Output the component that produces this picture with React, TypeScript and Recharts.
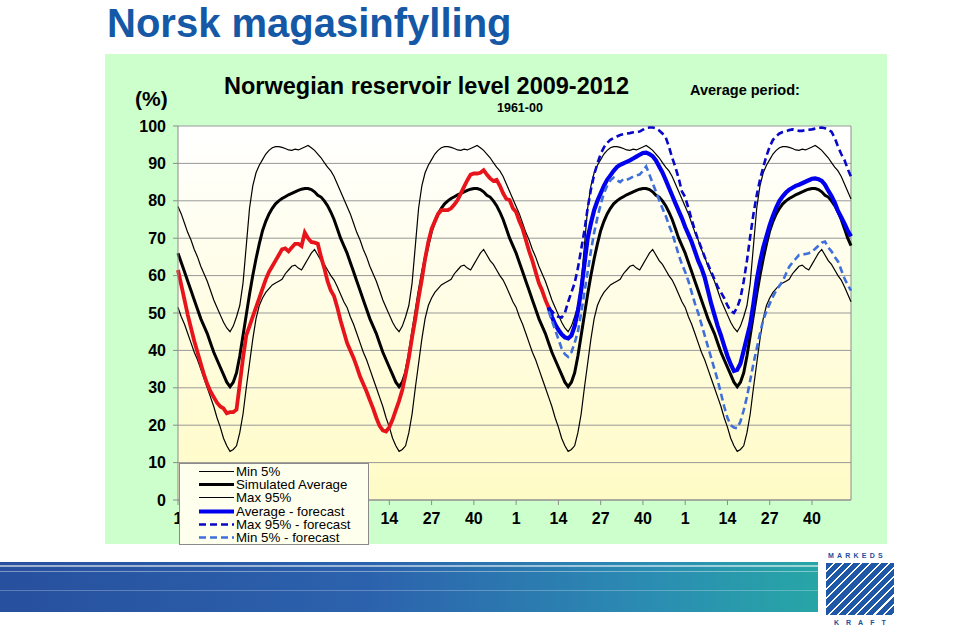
import React from 'react';
import { LineChart, Line, XAxis, YAxis, CartesianGrid, Legend, ReferenceLine } from 'recharts';

const FONT = 'Arial, "Liberation Sans", Helvetica, sans-serif';

// ---------- categories / ticks ----------
const YEARS = [2009, 2010, 2011, 2012];
const WEEKS_PER_YEAR = 52;
const TICK_WEEKS = [1, 14, 27, 40];
const Y_TICKS = [0, 10, 20, 30, 40, 50, 60, 70, 80, 90, 100];
const FORECAST_START_YEAR = 2011;
const FORECAST_START_WEEK = 11;

// ---------- statistics 1961-00 (weekly, week 1..52) ----------
const MIN5_WEEKLY = [
  51.5, 49, 47, 44.5, 42, 39.5, 37.5, 35, 32.5, 30,
  27.5, 25, 22, 19.5, 16.5, 14.5, 13, 13.5, 14.5, 18,
  23, 30, 36.5, 43, 48.5, 52, 54, 55.5, 56.5, 57.5,
  58, 58.5, 59, 60.5, 61.5, 62.5, 62.8, 62, 61.5, 63,
  64.5, 66, 67, 65.5, 64, 63, 61.5, 60, 58.8, 57,
  55, 53,
];
const SIMAVG_WEEKLY = [
  66, 63.5, 61, 58.5, 56, 53.5, 51, 48.5, 46.5, 44.5,
  42, 39.5, 37.5, 35.5, 33.5, 31.5, 30.3, 31.5, 34, 38.5,
  44, 49.5, 55, 60, 64.5, 68.5, 72, 74.5, 76.5, 78,
  79.2, 80, 80.6, 81.1, 81.6, 82, 82.4, 82.8, 83.1, 83.3,
  83.3, 83, 82.4, 81.5, 81, 80, 78.7, 77, 75, 72.5,
  70, 68,
];
const MAX95_WEEKLY = [
  78.5, 76.5, 74, 71.5, 69.5, 67, 65, 62.5, 60.5, 58.5,
  56, 53.5, 51.5, 49.5, 47.5, 46, 45, 46.5, 49, 52,
  58, 68, 78, 84, 87.5, 89.5, 91, 92.5, 93.5, 94.2,
  94.5, 94.5, 94.3, 94, 93.6, 93.5, 93.8, 93.6, 94, 94.4,
  94.8, 94.2, 93.5, 92.5, 91.5, 90.2, 89, 88, 86.5, 84.5,
  82.5, 80.5,
];

// ---------- actual reservoir level ----------
const ACTUAL_2009 = [
  61.5, 57.5, 53.5, 49.5, 46, 42.5, 39.5, 36.5, 33.5, 31,
  29, 27.5, 26, 25, 24.5, 23.2, 23.5, 23.5, 24.2, 31,
  38, 44, 46.5, 49, 51.5, 54, 56.5, 59, 61, 62.5,
  64, 65.5, 67, 67.3, 66.5, 67.5, 68.5, 68.5, 67.9, 71.5,
  70, 69, 68.8, 68.5, 65, 62, 58.5, 56, 54.5, 51.5,
  48, 45,
];
const ACTUAL_2010 = [
  42, 40, 38, 35.6, 33, 31, 29, 26.7, 24.5, 22,
  19.8, 18.6, 18.3, 19.5, 21.5, 24, 26.5, 29.5, 33.5, 38,
  43.5, 48.5, 54, 59, 64.5, 69, 72.5, 74.5, 76.5, 77.5,
  77.5, 77.5, 78, 79, 80.2, 82, 83.8, 85.5, 87, 87.3,
  87.3, 87.5, 88.2, 87, 86, 85.3, 85.6, 84, 82, 80.5,
  80.2, 78,
];
const ACTUAL_2011 = [77, 74.5, 72.5, 69.5, 66.5, 64, 61, 58, 56, 53.5, 51.5, 50];

// ---------- forecasts (2011 from week 11, then 2012) ----------
const FC_AVG_2011 = [
  51.5, 49, 47, 45.5, 44.3, 43.5, 43.2, 44, 46.5, 50.5,
  56, 63, 70, 74, 77.5, 80, 82, 84, 85.6, 86.8,
  88, 89, 89.6, 90, 90.4, 90.8, 91.3, 91.8, 92.3, 92.8,
  92.9, 92.5, 91.9, 90.8, 89.2, 87.6, 85.6, 83.5, 81.4, 79.3,
  77.3, 75.3,
];
const FC_AVG_2012 = [
  73, 71, 69, 66.5, 64, 62, 59.5, 56, 52.5, 49.5,
  46.5, 44, 41.2, 38.5, 36.3, 34.5, 34.8, 36.5, 40, 43.5,
  47, 52.5, 58.8, 63.5, 67.5, 70.5, 73.5, 76, 78.2, 80,
  81.2, 82.2, 83, 83.5, 84, 84.3, 84.7, 85.1, 85.5, 85.9,
  86, 85.8, 85.3, 84.3, 82.7, 81.3, 79.5, 77.3, 75.6, 73.9,
  72, 70.5,
];
const FC_MAX_2011 = [
  51, 50.5, 49.5, 49, 48.8, 50, 53, 55.5, 58, 62,
  67, 72, 78, 83, 87, 90, 92.5, 94.3, 95.5, 96.3,
  96.8, 97.2, 97.6, 97.8, 98, 98.1, 98.3, 98.4, 98.5, 99,
  99.5, 99.6, 99.6, 99.4, 98.8, 98, 97, 94.5, 91.5, 89,
  86, 82.5,
];
const FC_MAX_2012 = [
  81, 78, 75, 72, 69.5, 67.3, 65, 63, 61, 59,
  57, 55.5, 54, 52, 50.5, 50, 51.5, 54, 58.5, 64,
  70.5, 76.5, 81.5, 85.6, 89, 92, 94.5, 96.3, 97.3, 98,
  98.4, 98.6, 98.9, 99.1, 98.9, 98.7, 98.7, 98.9, 99, 99.1,
  99.3, 99.5, 99.6, 99.4, 99, 98.5, 96.8, 94.5, 92.5, 90.9,
  88.5, 86.4,
];
const FC_MIN_2011 = [
  50.5, 48, 45.5, 43, 40.5, 39, 38.3, 39.5, 42, 45,
  50, 55.5, 61, 66.5, 71.5, 75.5, 79, 82, 84, 85.5,
  86.2, 85.5, 85, 85.8, 85.6, 86, 86.5, 86.8, 87, 88,
  89.2, 87, 84.7, 82.5, 80.2, 78, 76, 73.5, 71.3, 68.5,
  65.5, 63,
];
const FC_MIN_2012 = [
  61, 58.5, 55.5, 52.5, 50, 47, 44, 41, 38, 35,
  32, 28.5, 25, 22, 20, 19.4, 19.2, 21, 24, 27.6,
  32, 36.5, 40.5, 44.5, 48.1, 50.5, 52.5, 54.4, 56, 57.3,
  58.5, 60.5, 62.4, 63.5, 64.5, 65.5, 65.6, 65.8, 66, 66.4,
  67.2, 68, 68.8, 69.1, 67.5, 66.5, 65, 63.8, 61.5, 59.2,
  57.5, 56,
];

// ---------- table built for the library ----------
const ACTUAL = [...ACTUAL_2009, ...ACTUAL_2010, ...ACTUAL_2011];
const FC_AVG = [...FC_AVG_2011, ...FC_AVG_2012];
const FC_MAX = [...FC_MAX_2011, ...FC_MAX_2012];
const FC_MIN = [...FC_MIN_2011, ...FC_MIN_2012];
const FC_START = YEARS.indexOf(FORECAST_START_YEAR) * WEEKS_PER_YEAR + FORECAST_START_WEEK - 1;

const data: any[] = [];
YEARS.forEach((year, y) => {
  for (let w = 0; w < WEEKS_PER_YEAR; w++) {
    const i = y * WEEKS_PER_YEAR + w;
    data.push({
      idx: i,
      year,
      week: w + 1,
      min5: MIN5_WEEKLY[w],
      avg: SIMAVG_WEEKLY[w],
      max95: MAX95_WEEKLY[w],
      actual: i < ACTUAL.length ? ACTUAL[i] : null,
      fAvg: i >= FC_START ? FC_AVG[i - FC_START] : null,
      fMax: i >= FC_START ? FC_MAX[i - FC_START] : null,
      fMin: i >= FC_START ? FC_MIN[i - FC_START] : null,
    });
  }
});
const LAST_IDX = data.length - 1;
const X_TICKS = YEARS.flatMap((_, y) => TICK_WEEKS.map((w) => y * WEEKS_PER_YEAR + w - 1));

// ---------- series styles ----------
type S = { key: string; name: string; color: string; width: number; dash?: string; legend: boolean };
const SERIES: S[] = [
  { key: 'min5', name: 'Min 5%', color: '#000000', width: 1.2, legend: true },
  { key: 'avg', name: 'Simulated Average', color: '#000000', width: 3, legend: true },
  { key: 'max95', name: 'Max 95%', color: '#000000', width: 1.2, legend: true },
  { key: 'actual', name: 'Actual', color: '#E8141B', width: 3.8, legend: false },
  { key: 'fAvg', name: 'Average - forecast', color: '#0000EE', width: 4.2, legend: true },
  { key: 'fMax', name: 'Max 95% - forecast', color: '#0808C8', width: 2.6, dash: '7 4', legend: true },
  { key: 'fMin', name: 'Min 5% - forecast', color: '#3F6FDD', width: 2.6, dash: '7 4', legend: true },
];

const LEGEND_BOX = { left: 179, top: 463, width: 190, height: 82 };

const renderLegend = () => (
  <div
    style={{
      width: LEGEND_BOX.width,
      height: LEGEND_BOX.height,
      boxSizing: 'border-box',
      background: '#FFFFEE',
      border: '1px solid #8a8a8a',
      fontFamily: FONT,
      fontSize: 13.3,
      color: '#000',
      paddingTop: 1,
    }}
  >
    {SERIES.filter((s) => s.legend).map((s) => (
      <div key={s.key} style={{ display: 'flex', alignItems: 'center', height: 13.2 }}>
        <svg width={56} height={13} style={{ flex: 'none' }}>
          <line x1={19} x2={54} y1={6.5} y2={6.5} stroke={s.color} strokeWidth={s.width} strokeDasharray={s.dash} />
        </svg>
        <span style={{ lineHeight: '13px', whiteSpace: 'nowrap' }}>{s.name}</span>
      </div>
    ))}
  </div>
);

// x tick labels: those lying under the legend box are hidden (as in the original slide)
const XTick = (props: any) => {
  const { x, y, payload } = props;
  if (x > LEGEND_BOX.left + 5 && x < LEGEND_BOX.left + LEGEND_BOX.width + 5) return <g />;
  const row = data[payload.value];
  return (
    <text x={x} y={y} dy="0.71em" textAnchor="middle" fill="#000" fontSize={16} fontWeight="bold" fontFamily={FONT}>
      {row ? row.week : ''}
    </text>
  );
};

const txt = (extra: React.CSSProperties): React.CSSProperties => ({
  position: 'absolute',
  fontFamily: FONT,
  fontWeight: 'bold',
  lineHeight: 1,
  whiteSpace: 'nowrap',
  color: '#000',
  ...extra,
});

export default function App() {
  return (
    <div style={{ position: 'absolute', left: 0, top: 0, width: 959, height: 630, overflow: 'hidden', background: '#fff' }}>
      <div style={txt({ left: 107, top: 3, fontSize: 40, color: '#1458A6' })}>Norsk magasinfylling</div>
      <div style={{ position: 'absolute', left: 105, top: 54, width: 782, height: 490, background: '#CCFFCC' }} />

      <div style={{ position: 'absolute', left: 0, top: 0 }}>
        <LineChart width={959} height={630} data={data} margin={{ top: 126, right: 108, bottom: 100, left: 118 }}>
          <defs>
            <linearGradient id="plotBg" x1="0" y1="0" x2="0" y2="1">
              <stop offset="0%" stopColor="#FFFFFF" />
              <stop offset="100%" stopColor="#FFFBC6" />
            </linearGradient>
          </defs>
          <CartesianGrid vertical={false} stroke="#999999" fill="url(#plotBg)" fillOpacity={1} />
          <XAxis
            dataKey="idx"
            type="number"
            domain={[0, LAST_IDX]}
            ticks={X_TICKS}
            interval={0}
            height={30}
            tickSize={5}
            tickMargin={8}
            stroke="#8c8c8c"
            tick={<XTick />}
          />
          <YAxis
            domain={[0, 100]}
            ticks={Y_TICKS}
            interval={0}
            width={60}
            tickSize={5}
            tickMargin={7}
            stroke="#8c8c8c"
            tick={{ fill: '#000', fontSize: 16, fontWeight: 'bold', fontFamily: FONT }}
          />
          <ReferenceLine x={LAST_IDX} stroke="#8c8c8c" />
          {SERIES.map((s) => (
            <Line
              key={s.key}
              dataKey={s.key}
              name={s.name}
              type="linear"
              stroke={s.color}
              strokeWidth={s.width}
              strokeDasharray={s.dash}
              dot={false}
              activeDot={false}
              legendType={s.legend ? 'line' : 'none'}
              isAnimationActive={false}
            />
          ))}
          <Legend
            layout="vertical"
            align="center"
            verticalAlign="middle"
            content={renderLegend}
            wrapperStyle={{ left: LEGEND_BOX.left, top: LEGEND_BOX.top, width: LEGEND_BOX.width, height: LEGEND_BOX.height }}
          />
        </LineChart>
      </div>

      <div style={txt({ left: 224, top: 75, fontSize: 23.5 })}>Norwegian reservoir level 2009-2012</div>
      <div style={txt({ left: 497, top: 102, fontSize: 12.5 })}>1961-00</div>
      <div style={txt({ left: 690, top: 83, fontSize: 14.5 })}>Average period:</div>
      <div style={txt({ left: 135, top: 88, fontSize: 21 })}>(%)</div>

      {/* footer decoration */}
      <div
        style={{
          position: 'absolute',
          left: 0,
          top: 562,
          width: 818,
          height: 50,
          background: 'linear-gradient(to right, #27509E 0%, #2C62AD 45%, #2B8DB2 80%, #27A6A6 100%)',
        }}
      />
      <div style={{ position: 'absolute', left: 0, top: 565, width: 818, height: 2, background: 'rgba(255,255,255,0.55)' }} />
      <div style={{ position: 'absolute', left: 0, top: 571, width: 818, height: 1, background: 'rgba(255,255,255,0.4)' }} />
      <div style={{ position: 'absolute', left: 0, top: 590, width: 818, height: 1, background: 'rgba(255,255,255,0.25)' }} />
      <div style={txt({ left: 828, top: 552, fontSize: 7, color: '#1B4F9C', letterSpacing: 3.2 })}>MARKEDS</div>
      <div
        style={{
          position: 'absolute',
          left: 826,
          top: 563,
          width: 68,
          height: 52,
          background:
            'repeating-linear-gradient(135deg, #1E58A6 0px, #1E58A6 5px, #ffffff 5px, #ffffff 6.5px), #1E58A6',
        }}
      />
      <div style={txt({ left: 834, top: 619, fontSize: 7, color: '#1B4F9C', letterSpacing: 7 })}>KRAFT</div>
    </div>
  );
}
